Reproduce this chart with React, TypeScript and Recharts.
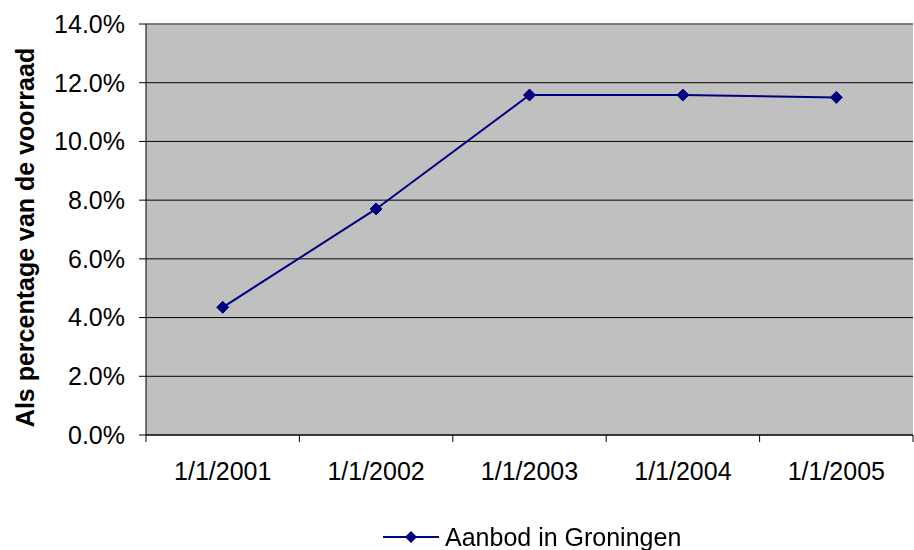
import React from "react";
import {
  CartesianGrid,
  Legend,
  Line,
  LineChart,
  ReferenceLine,
  XAxis,
  YAxis,
} from "recharts";

const categories = ["1/1/2001", "1/1/2002", "1/1/2003", "1/1/2004", "1/1/2005"];
const aanbod = [4.35, 7.7, 11.58, 11.58, 11.5];
const yTicks = [0, 2, 4, 6, 8, 10, 12, 14];

const data = categories.map((name, i) => ({ x: i + 0.5, name, aanbod: aanbod[i] }));
const boundaryTicks = categories.map((_, i) => i).concat(categories.length);
const centerTicks = categories.map((_, i) => i + 0.5);

const NAVY = "#000080";
const FONT = "'Liberation Sans', Arial, sans-serif";

const Diamond = (props: any) => {
  const { cx, cy } = props;
  if (cx == null || cy == null) return null;
  const r = 6;
  return (
    <path
      d={`M${cx},${cy - r}L${cx + r},${cy}L${cx},${cy + r}L${cx - r},${cy}Z`}
      fill={NAVY}
      stroke={NAVY}
    />
  );
};

const LegendContent = () => (
  <div
    style={{
      display: "flex",
      alignItems: "center",
      fontFamily: FONT,
      fontSize: 25,
      color: "#000",
      marginLeft: 383,
      paddingTop: 33,
      lineHeight: "28px",
    }}
  >
    <svg width={56} height={14} style={{ marginRight: 6 }}>
      <line x1={0} y1={7} x2={56} y2={7} stroke={NAVY} strokeWidth={2} />
      <path d="M28,1L34,7L28,13L22,7Z" fill={NAVY} />
    </svg>
    <span>Aanbod in Groningen</span>
  </div>
);

const App = () => {
  return (
    <div style={{ position: "fixed", left: 0, top: 0, background: "#fff" }}>
      <LineChart
        width={914}
        height={550}
        data={data}
        margin={{ top: 24, right: 1, left: 0, bottom: 0 }}
        style={{ fontFamily: FONT }}
      >
        <CartesianGrid
          vertical={false}
          stroke="#000"
          strokeWidth={1}
          fill="#C0C0C0"
          fillOpacity={1}
        />
        <ReferenceLine xAxisId="a_marks" y={14} stroke="#808080" strokeWidth={1.5} />
        <XAxis
          xAxisId="b_labels"
          dataKey="x"
          type="number"
          domain={[0, categories.length]}
          ticks={centerTicks}
          tickFormatter={(v: number) => categories[Math.round(v - 0.5)]}
          axisLine={false}
          tickLine={false}
          tickSize={0}
          tickMargin={17}
          height={45}
          interval={0}
          tick={{ fill: "#000", fontSize: 25 }}
        />
        <XAxis
          xAxisId="a_marks"
          dataKey="x"
          type="number"
          domain={[0, categories.length]}
          ticks={boundaryTicks}
          tickFormatter={() => ""}
          tickSize={7}
          stroke="#000"
          height={10}
          interval={0}
        />
        <YAxis
          domain={[0, 14]}
          ticks={yTicks}
          tickFormatter={(v: number) => `${v.toFixed(1)}%`}
          width={146}
          tickSize={7}
          tickMargin={14}
          stroke="#000"
          interval={0}
          tick={{ fill: "#000", fontSize: 25 }}
          label={{
            value: "Als percentage van de voorraad",
            angle: -90,
            position: "insideLeft",
            dx: 20,
            dy: 8,
            style: { textAnchor: "middle", fontWeight: "bold", fontSize: 25, fill: "#000" },
          }}
        />
        <Legend verticalAlign="bottom" height={60} content={<LegendContent />} />
        <Line
          xAxisId="a_marks"
          dataKey="aanbod"
          name="Aanbod in Groningen"
          stroke={NAVY}
          strokeWidth={2}
          dot={<Diamond />}
          activeDot={false}
          isAnimationActive={false}
        />
      </LineChart>
    </div>
  );
};

export default App;
